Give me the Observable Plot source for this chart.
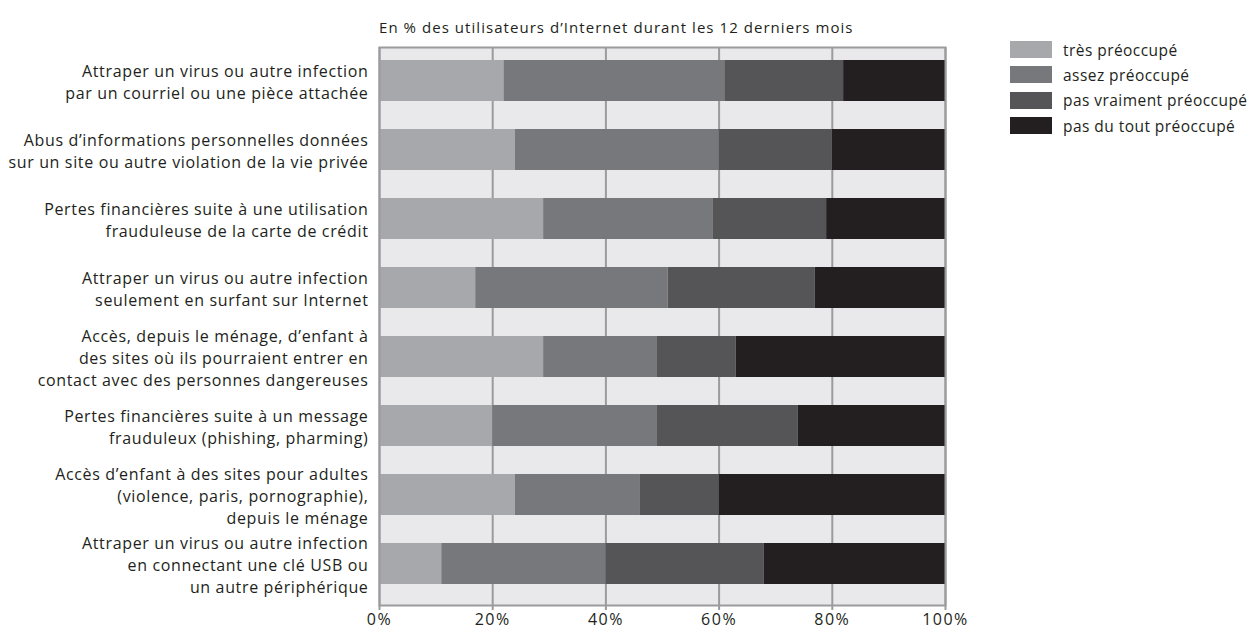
<!DOCTYPE html>
<html>
<head>
<meta charset="utf-8">
<script src="https://cdn.jsdelivr.net/npm/d3@7"></script>
<script src="https://cdn.jsdelivr.net/npm/@observablehq/plot@0.6"></script>
<style>
  html, body { margin: 0; padding: 0; background: #fff; }
  #wrap { position: relative; width: 1258px; height: 630px; font-family: "Open Sans", sans-serif; color: #231f20; }
  #wrap svg { position: absolute; left: 0; top: 0; }
  #title { position: absolute; left: 379px; top: 17px; font-size: 15px; letter-spacing: 1.05px; white-space: nowrap; }
  #legend { position: absolute; left: 1010px; top: 37px; font-size: 15.5px; letter-spacing: 0.45px; }
  .row { display: flex; align-items: center; height: 25.3px; white-space: nowrap; }
  .sw { width: 42px; height: 17px; margin-right: 11px; }
  .ylab text { letter-spacing: 0.65px; }
  .xax text { letter-spacing: 1.5px; }
</style>
</head>
<body>
<div id="wrap">
  <div id="title">En % des utilisateurs d’Internet durant les 12 derniers mois</div>
  <div id="legend"></div>
</div>
<script>
const categories = [
  "Attraper un virus ou autre infection\npar un courriel ou une pièce attachée",
  "Abus d’informations personnelles données\nsur un site ou autre violation de la vie privée",
  "Pertes financières suite à une utilisation\nfrauduleuse de la carte de crédit",
  "Attraper un virus ou autre infection\nseulement en surfant sur Internet",
  "Accès, depuis le ménage, d’enfant à\ndes sites où ils pourraient entrer en\ncontact avec des personnes dangereuses",
  "Pertes financières suite à un message\nfrauduleux (phishing, pharming)",
  "Accès d’enfant à des sites pour adultes\n(violence, paris, pornographie),\ndepuis le ménage",
  "Attraper un virus ou autre infection\nen connectant une clé USB ou\nun autre périphérique"
];
const levels = ["très préoccupé", "assez préoccupé", "pas vraiment préoccupé", "pas du tout préoccupé"];
const tres = [22, 24, 29, 17, 29, 20, 24, 11];
const assez = [39, 36, 30, 34, 20, 29, 22, 29];
const pasVraiment = [21, 20, 20, 26, 14, 25, 14, 28];
const pasDuTout = [18, 20, 21, 23, 37, 26, 40, 32];
const xTicks = [0, 20, 40, 60, 80, 100];
const colors = ["#a7a8ab", "#77787b", "#555557", "#231f20"];

const series = [tres, assez, pasVraiment, pasDuTout];
const data = [];
categories.forEach((c, i) => {
  series.forEach((s, j) => data.push({cat: c, level: levels[j], value: s[i]}));
});

const chart = Plot.plot({
  width: 1258,
  height: 630,
  marginLeft: 379,
  marginRight: 313,
  marginTop: 47,
  marginBottom: 25,
  style: {fontFamily: "Open Sans, sans-serif", fontSize: "16px", color: "#231f20", background: "transparent"},
  x: {domain: [0, 100], ticks: xTicks, tickFormat: d => d + "%", label: null},
  y: {domain: categories, paddingInner: 0.4, paddingOuter: 0.21, align: 0.38, axis: null, label: null},
  color: {domain: levels, range: colors},
  marks: [
    Plot.frame({fill: "#e9e9eb", stroke: "none"}),
    Plot.gridX({ticks: xTicks, stroke: "#9b9b9d", strokeOpacity: 1, strokeWidth: 2}),
    Plot.barX(data, {x: "value", y: "cat", fill: "level", order: levels}),
    Plot.frame({stroke: "#9b9b9d", strokeWidth: 2}),
    Plot.axisX({ticks: xTicks, tickFormat: d => d + "%", tickSize: 5, stroke: "#9b9b9d", strokeWidth: 2, tickPadding: 3, fontSize: 16, fill: "#231f20", label: null, className: "xax"}),
    Plot.text(categories, {y: d => d, frameAnchor: "left", textAnchor: "end", dx: -11, lineHeight: 1.37, fontSize: 16, fill: "#231f20", className: "ylab"})
  ]
});
document.getElementById("wrap").appendChild(chart);

const legend = document.getElementById("legend");
levels.forEach((l, i) => {
  const row = document.createElement("div");
  row.className = "row";
  row.innerHTML = `<div class="sw" style="background:${colors[i]}"></div><span>${l}</span>`;
  legend.appendChild(row);
});
</script>
</body>
</html>
